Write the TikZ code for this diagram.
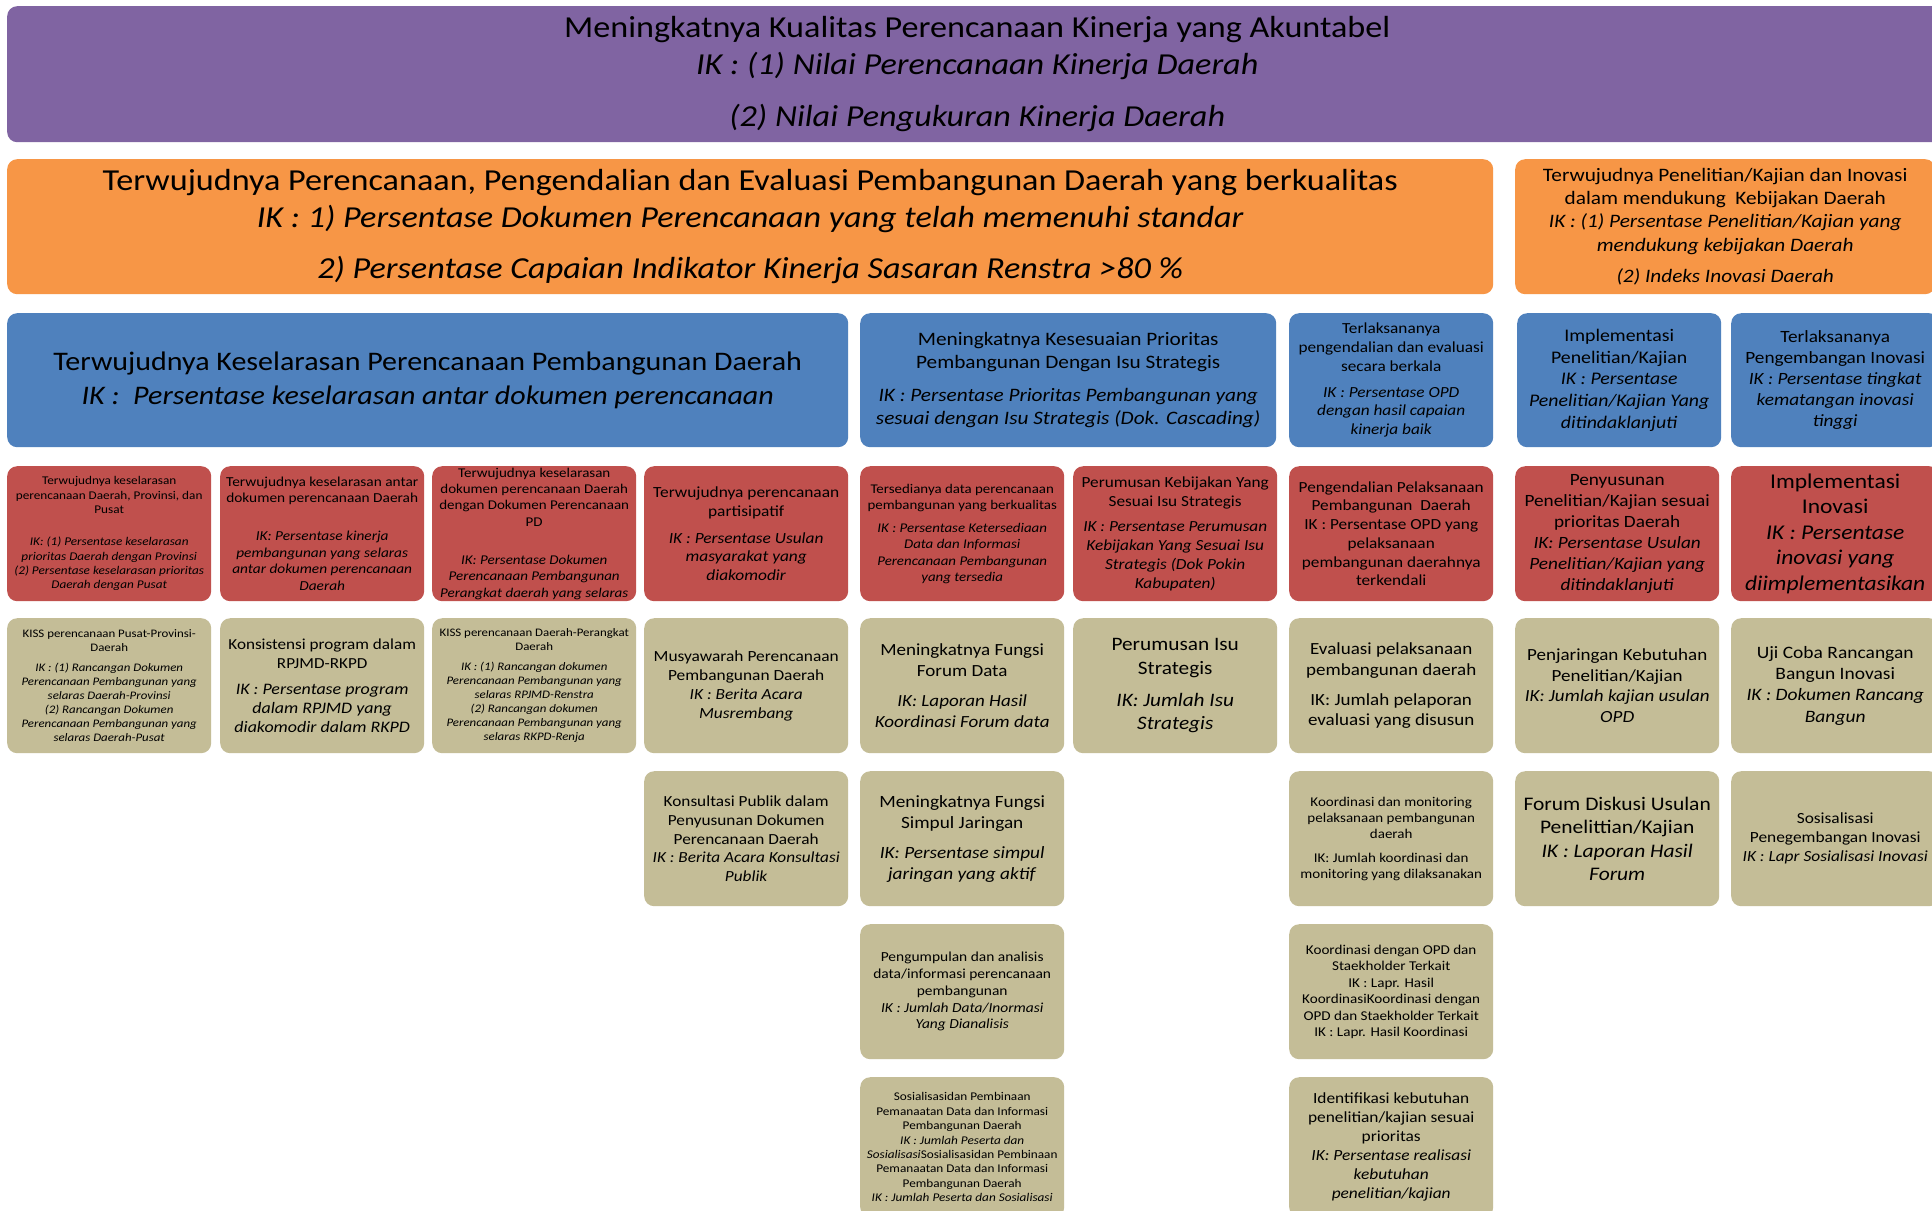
\documentclass[tikz,border=0pt]{standalone}
\usepackage{fontspec}
\setmainfont{Carlito}[FakeStretch=1.12]
\definecolor{cpurple}{HTML}{8064A2}
\definecolor{corange}{HTML}{F79646}
\definecolor{cblue}{HTML}{4F81BD}
\definecolor{cred}{HTML}{C0504D}
\definecolor{ctan}{HTML}{C4BD97}
\newcommand\fsz[1]{\fontsize{#1}{1.22\dimexpr #1pt\relax}\selectfont}
\tikzset{
  box/.style={rounded corners=10pt, anchor=north west, inner sep=1pt, align=center, text=black, minimum width=204pt},
  hA/.style={minimum height=135pt},
  purplebox/.style={box, fill=cpurple},
  orangebox/.style={box, fill=corange},
  bluebox/.style={box, fill=cblue},
  redbox/.style={box, fill=cred},
  tanbox/.style={box, fill=ctan},
}
\begin{document}
\begin{tikzpicture}[x=1pt,y=-1pt]
\useasboundingbox[fill=white] (0,0) rectangle (1932,1210);
% top
\node[purplebox, minimum width=1940pt, minimum height=136pt, font=\fsz{30.5}] (top) at (7,6)
 {Meningkatnya Kualitas Perencanaan Kinerja yang Akuntabel\\
  \textit{IK : (1) Nilai Perencanaan Kinerja Daerah}\\[15pt]
  \textit{(2) Nilai Pengukuran Kinerja Daerah}};
% orange
\node[orangebox, minimum width=1486pt, minimum height=135pt, font=\fsz{30.5}] (o1) at (7,159)
 {Terwujudnya Perencanaan, Pengendalian dan Evaluasi Pembangunan Daerah yang berkualitas\\
  \textit{IK : 1) Persentase Dokumen Perencanaan yang telah memenuhi standar}\\[14pt]
  \textit{2) Persentase Capaian Indikator Kinerja Sasaran Renstra >80 \%}};
\node[orangebox, minimum width=420pt, minimum height=135pt, font=\fsz{19}] (o2) at (1515,159)
 {Terwujudnya Penelitian/Kajian dan Inovasi\\
  dalam mendukung\ \ Kebijakan Daerah\\
  \textit{IK : (1) Persentase Penelitian/Kajian yang}\\
  \textit{mendukung kebijakan Daerah}\\[8pt]
  \textit{(2) Indeks Inovasi Daerah}};
% blue
\node[bluebox, minimum width=841pt, minimum height=134pt, font=\fsz{26.8}] (b1) at (7,313)
 {Terwujudnya Keselarasan Perencanaan Pembangunan Daerah\\[2pt]
  \textit{IK :\ \ Persentase keselarasan antar dokumen perencanaan}};
\node[bluebox, minimum width=416pt, minimum height=134pt, font=\fsz{19}] (b2) at (860,313)
 {Meningkatnya Kesesuaian Prioritas\\
  Pembangunan Dengan Isu Strategis\\[10pt]
  \textit{IK : Persentase Prioritas Pembangunan yang}\\
  \textit{sesuai dengan Isu Strategis (Dok. Cascading)}};
\node[bluebox, minimum height=134pt, font=\fsz{15.4}] (b3) at (1289,313)
 {Terlaksananya\\ pengendalian dan evaluasi\\ secara berkala\\[7pt]
  \textit{IK : Persentase OPD}\\ \textit{dengan hasil capaian}\\ \textit{kinerja baik}};
\node[bluebox, minimum height=134pt, font=\fsz{17.7}] (b8) at (1517,313)
 {Implementasi\\ Penelitian/Kajian\\ \textit{IK : Persentase}\\
  \textit{Penelitian/Kajian Yang}\\ \textit{ditindaklanjuti}};
\node[bluebox, minimum width=208pt, minimum height=134pt, font=\fsz{17.2}] (b9) at (1731,313)
 {Terlaksananya\\ Pengembangan Inovasi\\ \textit{IK : Persentase tingkat}\\
  \textit{kematangan inovasi}\\ \textit{tinggi}};
% red row
\node[redbox, hA, font=\fsz{11.8}] (r1) at (7,466)
 {Terwujudnya keselarasan\\ perencanaan Daerah, Provinsi, dan\\ Pusat\\[18pt]
  \textit{IK: (1) Persentase keselarasan}\\ \textit{prioritas Daerah dengan Provinsi}\\
  \textit{(2) Persentase keselarasan prioritas}\\ \textit{Daerah dengan Pusat}};
\node[redbox, hA, font=\fsz{13.7}] (r2) at (220,466)
 {Terwujudnya keselarasan antar\\ dokumen perencanaan Daerah\\[21pt]
  \textit{IK: Persentase kinerja}\\ \textit{pembangunan yang selaras}\\
  \textit{antar dokumen perencanaan}\\ \textit{Daerah}};
\node[redbox, hA, font=\fsz{13.4}] (r3) at (432,466)
 {Terwujudnya keselarasan\\ dokumen perencanaan Daerah\\ dengan Dokumen Perencanaan\\ PD\\[22pt]
  \textit{IK: Persentase Dokumen}\\ \textit{Perencanaan Pembangunan}\\
  \textit{Perangkat daerah yang selaras}};
\node[redbox, hA, font=\fsz{15.5}] (r4) at (644,466)
 {Terwujudnya perencanaan\\ partisipatif\\[8pt]
  \textit{IK : Persentase Usulan}\\ \textit{masyarakat yang}\\ \textit{diakomodir}};
\node[redbox, hA, font=\fsz{13.3}] (r5) at (860,466)
 {Tersedianya data perencanaan\\ pembangunan yang berkualitas\\[7pt]
  \textit{IK : Persentase Ketersediaan}\\ \textit{Data dan Informasi}\\
  \textit{Perencanaan Pembangunan}\\ \textit{yang tersedia}};
\node[redbox, hA, font=\fsz{15.4}] (r6) at (1073,466)
 {Perumusan Kebijakan Yang\\ Sesuai Isu Strategis\\[7pt]
  \textit{IK : Persentase Perumusan}\\ \textit{Kebijakan Yang Sesuai Isu}\\
  \textit{Strategis (Dok Pokin}\\ \textit{Kabupaten)}};
\node[redbox, hA, font=\fsz{15.4}] (r7) at (1289,466)
 {Pengendalian Pelaksanaan\\ Pembangunan\ \ Daerah\\ IK : Persentase OPD yang\\
  pelaksanaan\\ pembangunan daerahnya\\ terkendali};
\node[redbox, hA, font=\fsz{17.2}] (r8) at (1515,466)
 {Penyusunan\\ Penelitian/Kajian sesuai\\ prioritas Daerah\\
  \textit{IK: Persentase Usulan}\\ \textit{Penelitian/Kajian yang}\\ \textit{ditindaklanjuti}};
\node[redbox, hA, minimum width=208pt, font=\fsz{21}] (r9) at (1731,466)
 {Implementasi\\ Inovasi\\ \textit{IK : Persentase}\\ \textit{inovasi yang}\\ \textit{diimplementasikan}};
% tan row 1
\node[tanbox, hA, font=\fsz{11.5}] (t1) at (7,618)
 {KISS perencanaan Pusat-Provinsi-\\ Daerah\\[6pt]
  \textit{IK : (1) Rancangan Dokumen}\\ \textit{Perencanaan Pembangunan yang}\\
  \textit{selaras Daerah-Provinsi}\\ \textit{(2) Rancangan Dokumen}\\
  \textit{Perencanaan Pembangunan yang}\\ \textit{selaras Daerah-Pusat}};
\node[tanbox, hA, font=\fsz{15.3}] (t2) at (220,618)
 {Konsistensi program dalam\\ RPJMD-RKPD\\[8pt]
  {\fsz{16}\itshape IK : Persentase program}\\ {\fsz{16}\itshape dalam RPJMD yang}\\
  {\fsz{16}\itshape diakomodir dalam RKPD}};
\node[tanbox, hA, font=\fsz{11.5}] (t3) at (432,618)
 {KISS perencanaan Daerah-Perangkat\\ Daerah\\[6pt]
  \textit{IK : (1) Rancangan dokumen}\\ \textit{Perencanaan Pembangunan yang}\\
  \textit{selaras RPJMD-Renstra}\\ \textit{(2) Rancangan dokumen}\\
  \textit{Perencanaan Pembangunan yang}\\ \textit{selaras RKPD-Renja}};
\node[tanbox, hA, font=\fsz{15.5}] (t4) at (644,618)
 {Musyawarah Perencanaan\\ Pembangunan Daerah\\ \textit{IK : Berita Acara}\\ \textit{Musrembang}};
\node[tanbox, hA, font=\fsz{17}] (t5) at (860,618)
 {Meningkatnya Fungsi\\ Forum Data\\[9pt]
  \textit{IK: Laporan Hasil}\\ \textit{Koordinasi Forum data}};
\node[tanbox, hA, font=\fsz{19}] (t6) at (1073,618)
 {Perumusan Isu\\ Strategis\\[9pt]
  \textit{IK: Jumlah Isu}\\ \textit{Strategis}};
\node[tanbox, hA, font=\fsz{17}] (t7) at (1289,618)
 {Evaluasi pelaksanaan\\ pembangunan daerah\\[9pt]
  IK: Jumlah pelaporan\\ evaluasi yang disusun};
\node[tanbox, hA, font=\fsz{17}] (t8) at (1515,618)
 {Penjaringan Kebutuhan\\ Penelitian/Kajian\\ \textit{IK: Jumlah kajian usulan}\\ \textit{OPD}};
\node[tanbox, hA, minimum width=208pt, font=\fsz{17.4}] (t9) at (1731,618)
 {Uji Coba Rancangan\\ Bangun Inovasi\\ \textit{IK : Dokumen Rancang}\\ \textit{Bangun}};
% tan row 2
\node[tanbox, hA, font=\fsz{15.4}] (u4) at (644,771)
 {Konsultasi Publik dalam\\ Penyusunan Dokumen\\ Perencanaan Daerah\\
  \textit{IK : Berita Acara Konsultasi}\\ \textit{Publik}};
\node[tanbox, hA, font=\fsz{17.2}] (u5) at (860,771)
 {Meningkatnya Fungsi\\ Simpul Jaringan\\[9pt]
  \textit{IK: Persentase simpul}\\ \textit{jaringan yang aktif}};
\node[tanbox, hA, font=\fsz{13.4}] (u7) at (1289,771)
 {Koordinasi dan monitoring\\ pelaksanaan pembangunan\\ daerah\\[7pt]
  IK: Jumlah koordinasi dan\\ monitoring yang dilaksanakan};
\node[tanbox, hA, font=\fsz{19.2}] (u8) at (1515,771)
 {Forum Diskusi Usulan\\ Penelittian/Kajian\\ \textit{IK : Laporan Hasil}\\ \textit{Forum}};
\node[tanbox, hA, minimum width=208pt, font=\fsz{15.5}] (u9) at (1731,771)
 {Sosisalisasi\\ Penegembangan Inovasi\\ \textit{IK : Lapr Sosialisasi Inovasi}};
% tan row 3
\node[tanbox, hA, font=\fsz{13.8}] (v5) at (860,924)
 {Pengumpulan dan analisis\\ data/informasi perencanaan\\ pembangunan\\
  \textit{IK : Jumlah Data/Inormasi}\\ \textit{Yang Dianalisis}};
\node[tanbox, hA, font=\fsz{13.5}] (v7) at (1289,924)
 {Koordinasi dengan OPD dan\\ Staekholder Terkait\\ IK : Lapr. Hasil\\
  KoordinasiKoordinasi dengan\\ OPD dan Staekholder Terkait\\ IK : Lapr. Hasil Koordinasi};
% tan row 4
\node[tanbox, minimum height=140pt, font=\fsz{11.8}] (w5) at (860,1077)
 {Sosialisasidan Pembinaan\\ Pemanaatan Data dan Informasi\\ Pembangunan Daerah\\
  \textit{IK : Jumlah Peserta dan}\\ \textit{Sosialisasi}Sosialisasidan Pembinaan\\
  Pemanaatan Data dan Informasi\\ Pembangunan Daerah\\ \textit{IK : Jumlah Peserta dan Sosialisasi}};
\node[tanbox, minimum height=140pt, font=\fsz{15.5}] (w7) at (1289,1077)
 {Identifikasi kebutuhan\\ penelitian/kajian sesuai\\ prioritas\\
  \textit{IK: Persentase realisasi}\\ \textit{kebutuhan}\\ \textit{penelitian/kajian}};
\end{tikzpicture}
\end{document}
